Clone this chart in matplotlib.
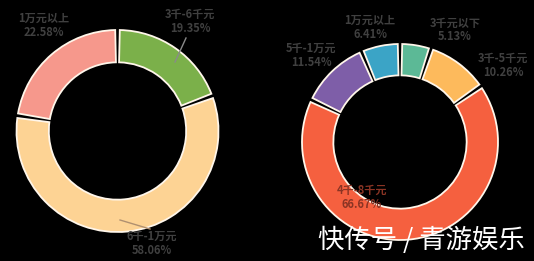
import matplotlib
matplotlib.use('AGG')

import matplotlib.pyplot as plt

plt.rcParams['font.family'] = ['Noto Sans CJK SC', 'DejaVu Sans']

# left donut
left_labels = ['3千-6千元', '6千-1万元', '1万元以上']
left_values = [19.35, 58.06, 22.58]
left_colors = ['#7bb04a', '#fdd394', '#f6988c']

# right donut
right_labels = ['3千元以下', '3千-5千元', '4千-8千元', '5千-1万元', '1万元以上']
right_values = [5.13, 10.26, 66.67, 11.54, 6.41]
right_colors = ['#5cb996', '#fdba5c', '#f5603f', '#7e5ea8', '#3ba4c6']

W, H = 534, 261


def donut(ax, values, labels, colors, center, radius, label_pos, label_colors):
  wedges, _ = ax.pie(values, colors=colors, startangle=90, counterclock=False,
                     center=center, radius=radius,
                     wedgeprops=dict(width=radius * 0.32, edgecolor='#fff6ea', linewidth=1.3))
  # open a small gap between slices
  for w in wedges:
    w.set_theta1(w.theta1 + 1.3)
    w.set_theta2(w.theta2 - 1.3)
  for lab, val, (x, y), c in zip(labels, values, label_pos, label_colors):
    ax.text(x, H - y, '%s\n%.2f%%' % (lab, val), ha='center', va='center',
            fontsize=8, fontweight='bold', color=c, linespacing=1.1)
  return wedges


fig = plt.figure(figsize=(W / 100, H / 100), dpi=100, facecolor='black')
ax = fig.add_axes([0, 0, 1, 1])
ax.set_facecolor('black')

donut(ax, left_values, left_labels, left_colors, (117.5, H - 131), 101,
      [(190, 21), (152, 243), (44, 25)], ['#404040'] * 3)
donut(ax, right_values, right_labels, right_colors, (400, H - 142), 98,
      [(455, 30), (503, 65), (362, 197), (311, 55), (370, 27)],
      ['#404040', '#404040', '#8a3424', '#404040', '#404040'])

# leader lines
ax.plot([175, 186], [H - 62, H - 38], color='#8a8a8a', lw=1)
ax.plot([120, 150], [H - 220, H - 229], color='#b09070', lw=1)

ax.text(421, H - 240, '快传号 / 青游娱乐', ha='center', va='center',
        fontsize=19, color='white')

ax.set_xlim(0, W)
ax.set_ylim(0, H)
ax.set_aspect('equal')
ax.axis('off')

fig.savefig('out.png', dpi=100, facecolor='black')
